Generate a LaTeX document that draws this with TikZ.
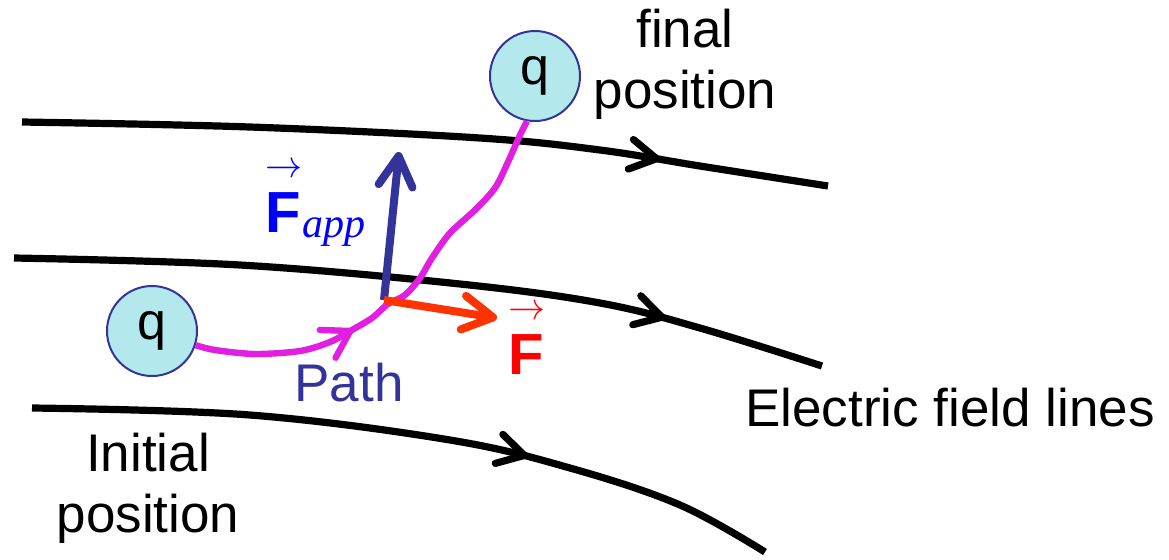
\documentclass[tikz,border=0pt]{standalone}
\usepackage{fontspec}
\setmainfont{Liberation Sans}
\newfontfamily\appfont{Liberation Serif}
\usetikzlibrary{arrows.meta,decorations.markings}
\definecolor{charge}{HTML}{B3E9EC}
\definecolor{navy}{HTML}{333399}
\definecolor{pathmag}{HTML}{E11FE1}
\definecolor{forcered}{HTML}{FF3300}
\definecolor{labelblue}{HTML}{0000FF}
\newcommand{\vecsym}[1]{\rlap{\raisebox{27.5pt}{\resizebox{18.5pt}{7pt}{$\rightarrow$}}}\textbf{#1}}
\tikzset{
  fieldline/.style={line width=3.6pt, postaction={decorate},
    decoration={markings, mark=at position #1 with {\arrow{Straight Barb[length=13pt,width=15pt,round]}}}},
  pathline/.style={pathmag, line width=3.2pt, postaction={decorate},
    decoration={markings, mark=at position #1 with {\arrow{Straight Barb[length=13pt,width=16pt,round]}}}},
  chargebox/.style={circle, draw=navy, fill=charge, line width=1pt, minimum size=45pt,
    inner sep=0pt, font=\fontsize{26}{30}\selectfont},
  lbl/.style={font=\fontsize{26.5}{30.5}\selectfont, inner sep=0pt},
  forcelbl/.style={font=\fontsize{29}{30}\selectfont, inner sep=0pt, anchor=base west},
  force/.style={line width=4pt, -{Straight Barb[length=15pt,width=17pt,round]}},
}
\begin{document}
\begin{tikzpicture}[x=0.5pt, y=-0.5pt]
  \useasboundingbox (0,0) rectangle (1169,559);
  % field lines
  \draw[fieldline=0.79] plot[smooth, tension=0.6] coordinates
    {(22,122) (250,127) (480,138) (600,150) (700,166) (828,186)};
  \draw[fieldline=0.8] plot[smooth, tension=0.6] coordinates
    {(14,258) (240,265) (460,284) (600,303) (700,328) (822,366)};
  \draw[fieldline=0.66] plot[smooth, tension=0.6] coordinates
    {(32,408) (250,415) (450,440) (570,468) (680,505) (765,552)};
  % charges
  \node[chargebox] (q1) at (152,331) {q};
  \node[chargebox] (q2) at (535,76) {q};
  % path of the charge
  \draw[pathline=0.37] plot[smooth, tension=0.5] coordinates
    {(q1.-18) (215,350) (255,354) (300,351) (330,342) (352,330) (372,318)
     (388,304) (405,295) (420,278) (432,258) (450,233) (475,210) (495,188)
     (508,162) (520,135) (q2.-100)};
  % forces
  \coordinate (o) at (384,300);
  \coordinate (fapptip) at (399,152);
  \coordinate (ftip) at (497,318);
  \draw[force, navy] (o) -- (fapptip);
  \draw[force, forcered] (o) -- (ftip);
  % labels
  \node[forcelbl, text=labelblue] (fapplbl) at (265,232) {\vecsym{F}};
  \node[anchor=base west, inner sep=0pt, text=labelblue,
        font=\appfont\itshape\fontsize{21}{22}\selectfont]
        (applbl) at (302,237) {app};
  \node[forcelbl, text=red] (flbl) at (508,374) {\vecsym{F}};
  \node[lbl, text=navy] (pathlbl) at (349,383) {Path};
  \node[lbl, align=center] (finallbl) at (685,64) {final\\position};
  \node[lbl] (elbl) at (950,408) {Electric field lines};
  \node[lbl, align=center] (initlbl) at (148,488) {Initial\\position};
\end{tikzpicture}
\end{document}
